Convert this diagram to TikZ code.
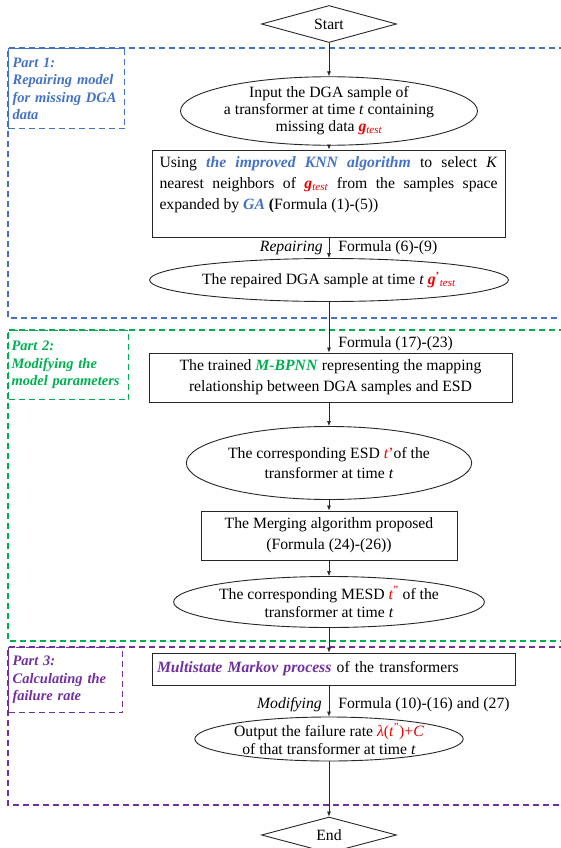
\documentclass[tikz,border=0pt]{standalone}
\usepackage{fontspec}
\setmainfont{Liberation Serif}
\usetikzlibrary{arrows.meta,positioning,shapes.geometric}
\definecolor{partblue}{RGB}{68,114,196}
\definecolor{partgreen}{RGB}{0,176,80}
\definecolor{partpurple}{RGB}{112,48,160}
\definecolor{hlred}{RGB}{235,0,0}
\newcommand{\gtest}{\textcolor{hlred}{\textbf{\textit{g}}\textsubscript{\textit{test}}}}
\newcommand{\gtestrep}{\textcolor{hlred}{\textbf{\textit{g}}\textsuperscript{\textbf{'}}\textsubscript{\textit{test}}}}
\newcommand{\emblue}[1]{\textcolor{partblue}{\textbf{\textit{#1}}}}

\begin{document}
\begin{tikzpicture}[x=1pt,y=-1pt,
  font=\fontsize{15.7}{18}\selectfont,
  flowbox/.style={draw=black!85,line width=0.9pt,rectangle,inner sep=0pt,align=center},
  flowell/.style={draw=black!85,line width=0.9pt,ellipse,inner sep=0pt,align=center},
  term/.style={draw=black!85,line width=0.9pt,diamond,inner sep=0pt,minimum width=135pt,aspect=3.6},
  arr/.style={-{Latex[length=5pt,width=4pt]},draw=black!85,line width=0.6pt},
  frame/.style={dash pattern=on 6pt off 4pt,line width=1.2pt},
  partlbl/.style={frame,font=\fontsize{14.5}{17.5}\selectfont\bfseries\itshape,
    align=left,anchor=north west,inner sep=4pt}]
  \useasboundingbox (0,0) rectangle (561,848);

  % part frames
  \draw[frame,partblue] (565,48) -| (8,318) -- (565,318);
  \draw[frame,partgreen] (565,330) -| (8,641) -- (565,641);
  \draw[frame,partpurple] (565,647) -| (8,805) -- (565,805);
  \node[partlbl,draw=partblue,text=partblue,minimum width=116pt,minimum height=80pt,text width=108pt] (p1) at (8,48)
    {Part 1:\\Repairing model\\for missing DGA\\data};
  \node[partlbl,draw=partgreen,text=partgreen,minimum width=120pt,minimum height=69pt,text width=114pt,inner sep=3pt] (p2) at (8,330)
    {Part 2:\\Modifying the\\model~parameters};
  \node[partlbl,draw=partpurple,text=partpurple,minimum width=114pt,minimum height=65pt,text width=106pt] (p3) at (8,647)
    {Part 3:\\Calculating the\\failure rate};

  % flow
  \node[term,minimum height=37pt] (start) at (329,24) {Start};
  \node[flowell,minimum width=210pt,minimum height=56pt,font=\fontsize{15.7}{17}\selectfont] (inp) at (329,111)
    {Input the DGA sample of\\a transformer at time \textit{t} containing\\missing data \gtest};
  \node[flowbox,minimum width=353pt,minimum height=87pt,text width=338pt,align=justify,
    font=\fontsize{15.7}{21}\selectfont] (knn) at (328.5,193.5)
    {Using \emblue{the improved KNN algorithm} to select \textit{K}\linebreak
     nearest neighbors of \gtest{} from the samples space\linebreak
     expanded by \emblue{GA} \textbf{(}Formula (1)-(5))\par\mbox{}};
  \node[flowell,minimum width=275pt,minimum height=43pt] (rep) at (329,280)
    {The repaired DGA sample at time \textit{t} \gtestrep};
  \node[flowbox,minimum width=363pt,minimum height=49pt,font=\fontsize{15.7}{21}\selectfont] (mbp) at (330.5,377.5)
    {The trained \textcolor{partgreen}{\textbf{\textit{M-BPNN}}} representing the mapping\\relationship between DGA samples and ESD};
  \node[flowell,minimum width=284pt,minimum height=73pt,font=\fontsize{15.7}{20}\selectfont] (esd) at (329,463)
    {The corresponding ESD \textcolor{hlred}{\textit{t}'}of the\\transformer at time \textit{t}};
  \node[flowbox,minimum width=256pt,minimum height=49pt,font=\fontsize{15.7}{21}\selectfont] (mrg) at (329,535.5)
    {The Merging algorithm proposed\\(Formula (24)-(26))};
  \node[flowell,minimum width=283pt,minimum height=51pt] (mesd) at (329,602)
    {The corresponding MESD \textcolor{hlred}{\textit{t}\textsuperscript{''}} of the\\transformer at time \textit{t}};
  \node[flowbox,minimum width=363pt,minimum height=32pt,text width=353pt,align=left] (mkv) at (333.5,669)
    {\textcolor{partpurple}{\textbf{\textit{Multistate Markov process}}} of the transformers};
  \node[flowell,minimum width=244pt,minimum height=44pt] (out) at (329,739)
    {Output the failure rate \textcolor{hlred}{\textit{λ}(\textit{t}\textsuperscript{''})+\textit{C}}\\of that transformer at time \textit{t}};
  \node[term,minimum height=36pt] (end) at (329,835) {End};

  % connectors
  \draw[arr] (start) -- (inp);
  \draw[arr] (inp) -- (knn.north -| inp);
  \draw[arr] (knn.south -| rep) -- (rep)
    node[midway,left=6pt,inner sep=0pt,text=black,font=\fontsize{15.7}{18}\selectfont\itshape] (lrep) {Repairing}
    node[midway,right=9pt,inner sep=0pt,text=black] (frep) {Formula (6)-(9)};
  \draw[arr] (rep) -- (mbp.north -| rep)
    node[pos=0.83,right=9pt,inner sep=0pt,text=black] (fmbp) {Formula (17)-(23)};
  \draw[arr] (mbp.south -| esd) -- (esd);
  \draw[arr] (esd) -- (mrg);
  \draw[arr] (mrg) -- (mesd);
  \draw[arr] (mesd) -- (mkv.north -| mesd);
  \draw[arr] (mkv.south -| out) -- (out)
    node[pos=0.62,left=7pt,inner sep=0pt,text=black,font=\fontsize{15.7}{18}\selectfont\itshape] (lmod) {Modifying}
    node[pos=0.62,right=9pt,inner sep=0pt,text=black] (fmod) {Formula (10)-(16) and (27)};
  \draw[arr] (out) -- (end);
\end{tikzpicture}
\end{document}
